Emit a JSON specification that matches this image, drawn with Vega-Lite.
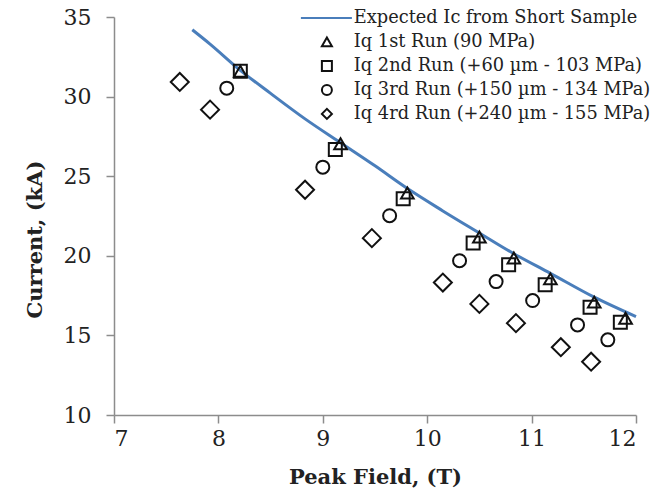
{
  "$schema": "https://vega.github.io/schema/vega-lite/v6.json",
  "width": 522,
  "height": 398,
  "autosize": {"type": "none"},
  "padding": {"left": 114, "top": 17, "right": 31, "bottom": 81},
  "background": "white",
  "config": {
    "view": {"stroke": null},
    "font": "DejaVu Serif",
    "axis": {
      "grid": false,
      "domainColor": "#8c8c8c",
      "tickColor": "#8c8c8c",
      "domainWidth": 1.5,
      "tickWidth": 1.5,
      "tickSize": 8,
      "labelFont": "DejaVu Serif",
      "labelFontSize": 22,
      "labelColor": "#222222",
      "titleFont": "DejaVu Serif",
      "titleFontWeight": "bold",
      "titleFontSize": 21,
      "titleColor": "#222222"
    },
    "legend": {
      "padding": 0,
      "labelFont": "DejaVu Serif",
      "labelFontSize": 17.8,
      "labelColor": "#222222",
      "symbolSize": 100,
      "symbolStrokeWidth": 2,
      "labelLimit": 600,
      "rowPadding": 5,
      "labelOffset": 18
    }
  },
  "data": {
    "values": [
      {"s": "Expected Ic from Short Sample", "x": 7.75, "y": 34.2},
      {"s": "Expected Ic from Short Sample", "x": 7.92, "y": 33.3},
      {"s": "Expected Ic from Short Sample", "x": 8.21, "y": 31.65},
      {"s": "Expected Ic from Short Sample", "x": 8.5, "y": 30.2},
      {"s": "Expected Ic from Short Sample", "x": 8.83, "y": 28.6},
      {"s": "Expected Ic from Short Sample", "x": 9.17, "y": 27.1},
      {"s": "Expected Ic from Short Sample", "x": 9.5, "y": 25.65},
      {"s": "Expected Ic from Short Sample", "x": 9.8, "y": 24.27},
      {"s": "Expected Ic from Short Sample", "x": 10.15, "y": 22.82},
      {"s": "Expected Ic from Short Sample", "x": 10.5, "y": 21.43},
      {"s": "Expected Ic from Short Sample", "x": 10.83, "y": 20.13},
      {"s": "Expected Ic from Short Sample", "x": 11.18, "y": 18.9},
      {"s": "Expected Ic from Short Sample", "x": 11.6, "y": 17.4},
      {"s": "Expected Ic from Short Sample", "x": 12.0, "y": 16.18},
      {"s": "Iq 1st Run (90 MPa)", "x": 8.21, "y": 31.59},
      {"s": "Iq 1st Run (90 MPa)", "x": 9.17, "y": 27.04},
      {"s": "Iq 1st Run (90 MPa)", "x": 9.81, "y": 23.94},
      {"s": "Iq 1st Run (90 MPa)", "x": 10.5, "y": 21.18},
      {"s": "Iq 1st Run (90 MPa)", "x": 10.83, "y": 19.86},
      {"s": "Iq 1st Run (90 MPa)", "x": 11.18, "y": 18.55},
      {"s": "Iq 1st Run (90 MPa)", "x": 11.6, "y": 17.09},
      {"s": "Iq 1st Run (90 MPa)", "x": 11.9, "y": 16.08},
      {"s": "Iq 2nd Run (+60 µm -  103 MPa)", "x": 8.21, "y": 31.59},
      {"s": "Iq 2nd Run (+60 µm -  103 MPa)", "x": 9.12, "y": 26.67},
      {"s": "Iq 2nd Run (+60 µm -  103 MPa)", "x": 9.77, "y": 23.58},
      {"s": "Iq 2nd Run (+60 µm -  103 MPa)", "x": 10.44, "y": 20.8},
      {"s": "Iq 2nd Run (+60 µm -  103 MPa)", "x": 10.78, "y": 19.43},
      {"s": "Iq 2nd Run (+60 µm -  103 MPa)", "x": 11.13, "y": 18.18},
      {"s": "Iq 2nd Run (+60 µm -  103 MPa)", "x": 11.56, "y": 16.77},
      {"s": "Iq 2nd Run (+60 µm -  103 MPa)", "x": 11.85, "y": 15.83},
      {"s": "Iq 3rd Run (+150 µm -  134 MPa)", "x": 8.08, "y": 30.53},
      {"s": "Iq 3rd Run (+150 µm -  134 MPa)", "x": 9.0, "y": 25.57},
      {"s": "Iq 3rd Run (+150 µm -  134 MPa)", "x": 9.64, "y": 22.52},
      {"s": "Iq 3rd Run (+150 µm -  134 MPa)", "x": 10.31, "y": 19.69},
      {"s": "Iq 3rd Run (+150 µm -  134 MPa)", "x": 10.66, "y": 18.38},
      {"s": "Iq 3rd Run (+150 µm -  134 MPa)", "x": 11.01, "y": 17.19},
      {"s": "Iq 3rd Run (+150 µm -  134 MPa)", "x": 11.44, "y": 15.66},
      {"s": "Iq 3rd Run (+150 µm -  134 MPa)", "x": 11.73, "y": 14.72},
      {"s": "Iq 4rd Run (+240 µm -  155 MPa)", "x": 7.63, "y": 30.92},
      {"s": "Iq 4rd Run (+240 µm -  155 MPa)", "x": 7.92, "y": 29.18},
      {"s": "Iq 4rd Run (+240 µm -  155 MPa)", "x": 8.83, "y": 24.15},
      {"s": "Iq 4rd Run (+240 µm -  155 MPa)", "x": 9.47, "y": 21.11},
      {"s": "Iq 4rd Run (+240 µm -  155 MPa)", "x": 10.15, "y": 18.32},
      {"s": "Iq 4rd Run (+240 µm -  155 MPa)", "x": 10.5, "y": 16.98},
      {"s": "Iq 4rd Run (+240 µm -  155 MPa)", "x": 10.85, "y": 15.77},
      {"s": "Iq 4rd Run (+240 µm -  155 MPa)", "x": 11.28, "y": 14.26},
      {"s": "Iq 4rd Run (+240 µm -  155 MPa)", "x": 11.57, "y": 13.35}
    ]
  },
  "encoding": {
    "x": {
      "field": "x",
      "type": "quantitative",
      "scale": {"domain": [7, 12], "nice": false, "zero": false},
      "axis": {"values": [7, 8, 9, 10, 11, 12], "title": "Peak Field, (T)", "labelPadding": 5, "titlePadding": 17}
    },
    "y": {
      "field": "y",
      "type": "quantitative",
      "scale": {"domain": [10, 35], "nice": false, "zero": false},
      "axis": {"values": [10, 15, 20, 25, 30, 35], "title": "Current, (kA)", "labelPadding": 15, "titlePadding": 18, "titleFontSize": 21, "titleY": 222}
    },
    "color": {
      "field": "s",
      "type": "nominal",
      "scale": {
        "domain": ["Expected Ic from Short Sample", "Iq 1st Run (90 MPa)", "Iq 2nd Run (+60 µm -  103 MPa)", "Iq 3rd Run (+150 µm -  134 MPa)", "Iq 4rd Run (+240 µm -  155 MPa)"],
        "range": ["#4a7ebb", "#111111", "#111111", "#111111", "#111111"]
      },
      "legend": {"title": null, "orient": "none", "legendX": 204, "legendY": -8}
    }
  },
  "layer": [
    {
      "transform": [{"filter": "datum.s === 'Expected Ic from Short Sample'"}],
      "mark": {"type": "line", "strokeWidth": 3, "interpolate": "monotone"}
    },
    {
      "transform": [{"filter": "datum.s === 'Iq 1st Run (90 MPa)'"}],
      "mark": {"type": "point", "filled": false, "strokeWidth": 2, "size": 160, "opacity": 1},
      "encoding": {
        "shape": {
          "field": "s",
          "type": "nominal",
          "scale": {
            "domain": ["Expected Ic from Short Sample", "Iq 1st Run (90 MPa)", "Iq 2nd Run (+60 µm -  103 MPa)", "Iq 3rd Run (+150 µm -  134 MPa)", "Iq 4rd Run (+240 µm -  155 MPa)"],
            "range": ["M-5.2,0L5.0,0", "triangle-up", "square", "circle", "diamond"]
          },
          "legend": {"title": null, "orient": "none", "legendX": 204, "legendY": -8}
        }
      }
    },
    {
      "transform": [{"filter": "datum.s === 'Iq 2nd Run (+60 µm -  103 MPa)'"}],
      "mark": {"type": "point", "filled": false, "strokeWidth": 2, "size": 169, "opacity": 1},
      "encoding": {"shape": {"field": "s", "type": "nominal", "legend": {"title": null, "orient": "none", "legendX": 204, "legendY": -8}}}
    },
    {
      "transform": [{"filter": "datum.s === 'Iq 3rd Run (+150 µm -  134 MPa)'"}],
      "mark": {"type": "point", "filled": false, "strokeWidth": 2, "size": 169, "opacity": 1},
      "encoding": {"shape": {"field": "s", "type": "nominal", "legend": {"title": null, "orient": "none", "legendX": 204, "legendY": -8}}}
    },
    {
      "transform": [{"filter": "datum.s === 'Iq 4rd Run (+240 µm -  155 MPa)'"}],
      "mark": {"type": "point", "filled": false, "strokeWidth": 2, "size": 324, "opacity": 1},
      "encoding": {"shape": {"field": "s", "type": "nominal", "legend": {"title": null, "orient": "none", "legendX": 204, "legendY": -8}}}
    }
  ]
}
